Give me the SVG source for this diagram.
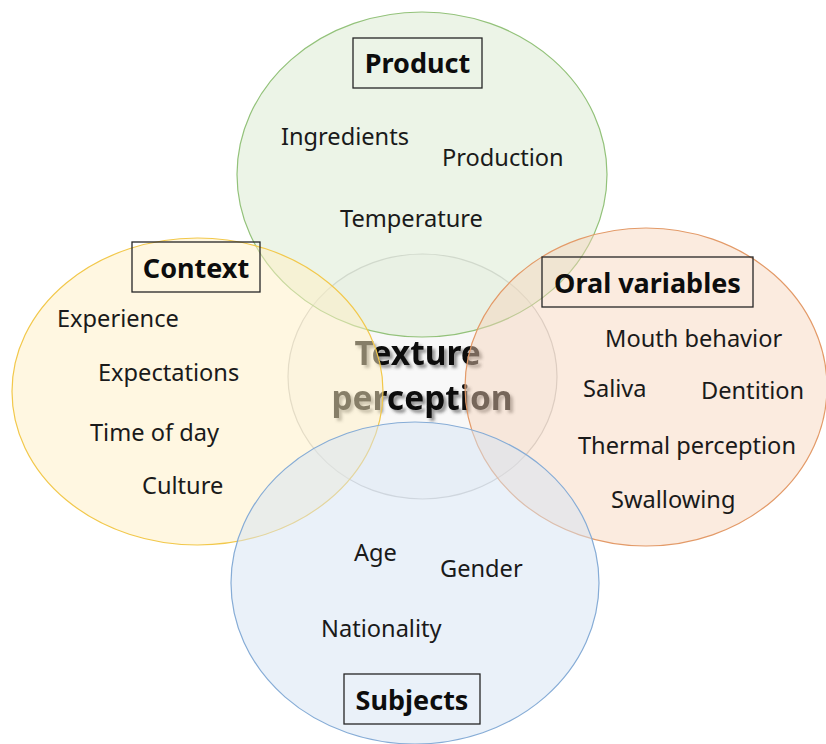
<svg xmlns="http://www.w3.org/2000/svg" width="826" height="744" viewBox="0 0 826 744">
  <style>
    .item { font-family: "Noto Sans", "Open Sans", sans-serif; font-size: 23.6px; fill: #1a1a1a; }
    .title { font-family: "Noto Sans", "Open Sans", sans-serif; font-size: 27px; font-weight: bold; fill: #0d0d0d; text-anchor: middle; }
    .box { fill: none; stroke: #262626; stroke-width: 1.3; }
    .core { font-family: "Noto Sans", "Open Sans", sans-serif; font-size: 33.5px; font-weight: bold; fill: #111; text-anchor: middle; }
    .ring { stroke-width: 1.2; }
  </style>
  <defs>
    <filter id="soft-shadow" x="-10%" y="-20%" width="130%" height="150%">
      <feGaussianBlur in="SourceAlpha" stdDeviation="1.8"/>
      <feOffset dx="2.5" dy="2.5" result="blur"/>
      <feFlood flood-color="#444" flood-opacity="0.55"/>
      <feComposite in2="blur" operator="in"/>
      <feMerge>
        <feMergeNode/>
        <feMergeNode in="SourceGraphic"/>
      </feMerge>
    </filter>
  </defs>

  <rect width="826" height="744" fill="#ffffff"/>

  <!-- central topic, lying beneath the translucent factor circles -->
  <g id="texture-perception">
    <ellipse cx="422.5" cy="376.5" rx="134.5" ry="122.5" fill="#f8f8f8" stroke="#c9c9c9" stroke-width="1.2"/>
    <text class="core" filter="url(#soft-shadow)">
      <tspan x="422" y="365">Texture</tspan>
      <tspan x="422" y="410">perception</tspan>
    </text>
  </g>

  <!-- factor circles -->
  <g id="product">
    <ellipse class="ring" cx="422" cy="174.5" rx="185" ry="162.5" fill="#d9ead0" fill-opacity="0.5" stroke="#93c27a"/>
    <rect class="box" x="353" y="38" width="129" height="50"/>
    <text class="title" x="417.5" y="72.5">Product</text>
    <text class="item" x="281" y="145">Ingredients</text>
    <text class="item" x="442" y="166">Production</text>
    <text class="item" x="340" y="227">Temperature</text>
  </g>

  <g id="context">
    <ellipse class="ring" cx="197.5" cy="391.5" rx="185.5" ry="153.5" fill="#fff0c4" fill-opacity="0.5" stroke="#f2c84b"/>
    <rect class="box" x="132" y="242" width="128" height="50"/>
    <text class="title" x="196" y="277.5">Context</text>
    <text class="item" x="57" y="327">Experience</text>
    <text class="item" x="98" y="381">Expectations</text>
    <text class="item" x="90" y="441">Time of day</text>
    <text class="item" x="142" y="494">Culture</text>
  </g>

  <g id="oral-variables">
    <ellipse class="ring" cx="646" cy="387" rx="181" ry="159" fill="#f7d2b8" fill-opacity="0.45" stroke="#e39a68"/>
    <rect class="box" x="542" y="257" width="211" height="50"/>
    <text class="title" x="647.5" y="292.5">Oral variables</text>
    <text class="item" x="605" y="347">Mouth behavior</text>
    <text class="item" x="583" y="397">Saliva</text>
    <text class="item" x="701" y="399">Dentition</text>
    <text class="item" x="578" y="454">Thermal perception</text>
    <text class="item" x="611" y="508">Swallowing</text>
  </g>

  <g id="subjects">
    <ellipse class="ring" cx="415" cy="583" rx="184" ry="161" fill="#d6e3f4" fill-opacity="0.5" stroke="#86acd6"/>
    <rect class="box" x="344" y="674" width="136" height="50"/>
    <text class="title" x="412" y="709.5">Subjects</text>
    <text class="item" x="354" y="561">Age</text>
    <text class="item" x="440" y="577">Gender</text>
    <text class="item" x="321" y="637">Nationality</text>
  </g>
</svg>
